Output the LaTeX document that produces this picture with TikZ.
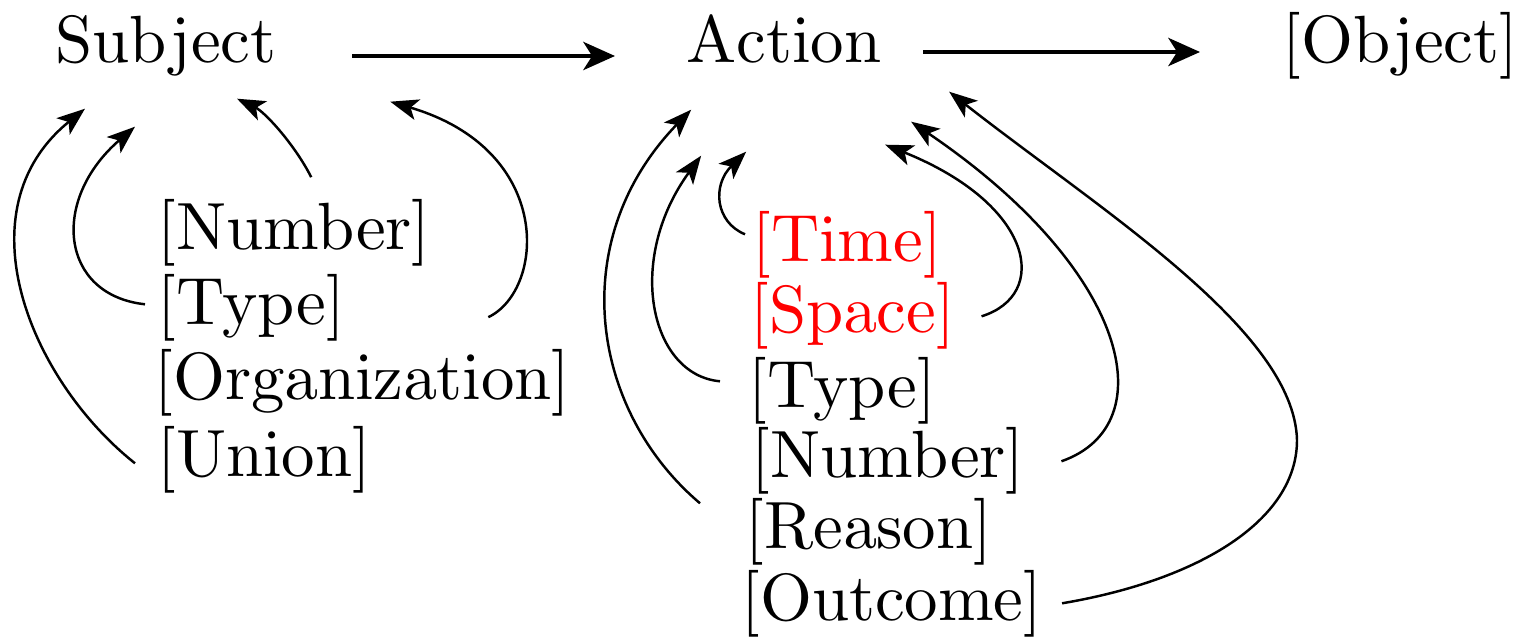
\documentclass[tikz,border=0pt]{standalone}
\usetikzlibrary{arrows.meta}
\font\wordfont=cmr10 at 19pt

\begin{document}
\begin{tikzpicture}[x=0.01cm,y=-0.01cm,
		word/.style={inner sep=0pt,anchor=base west,font=\wordfont},
		flow/.style={-{Stealth[length=9pt,width=8pt,inset=2.5pt]},line width=1.2pt},
		link/.style={-{Stealth[length=8pt,width=6pt,inset=2pt]},line width=0.7pt}]
			\useasboundingbox (0,0) rectangle (1524,640);
			\node[word] (subj) at (55,63) {Subject};
			\node[word] (act) at (686,63) {Action};
			\node[word] (obj) at (1282,63) {[Object]};
			\foreach \nm/\txt/\col/\xx/\yy in {lnum/[Number]/black/157/250, ltype/[Type]/black/157/325,
				lorg/[Organization]/black/154/400, lunion/[Union]/black/157/477,
				rtime/[Time]/red/752/262, rspace/[Space]/red/750/333, rtype/[Type]/black/748/408,
				rnum/[Number]/black/751/478, rreason/[Reason]/black/745/548, rout/[Outcome]/black/741/620} {
				\node[word,text=\col] (\nm) at (\xx,\yy) {\txt};
			}
			\draw[flow] ([shift={(75,-7)}]subj.base east) -- ([shift={(-71,-7)}]act.base west);
			\draw[flow] ([shift={(41,-11)}]act.base east) -- ([shift={(-82,-11)}]obj.base west);
			% subject side
			\draw[link] ([shift={(-22,3)}]lunion.west) .. controls (30,380) and (-40,210) .. ([shift={(30,32)}]subj.south west);
			\draw[link] ([shift={(-12,-4)}]ltype.west) .. controls (60,295) and (50,200) .. ([shift={(80,50)}]subj.south west);
			\draw[link] ([shift={(17,-22)}]lnum.north) .. controls (295,145) and (265,112) .. ([shift={(182,22)}]subj.south west);
			\draw[link] ([shift={(-83,-32)}]lorg.north east) .. controls (545,290) and (555,150) .. ([shift={(113,25)}]subj.south east);
			% action side
			\draw[link] ([shift={(-45,-28)}]rreason.west) .. controls (590,410) and (565,240) .. ([shift={(-93,46)}]act.south);
			\draw[link] ([shift={(-28,-10)}]rtype.west) .. controls (650,375) and (625,260) .. ([shift={(-83,92)}]act.south);
			\draw[link] ([shift={(-7,-11)}]rtime.west) .. controls (715,222) and (712,185) .. ([shift={(-38,88)}]act.south);
			\draw[link] ([shift={(26,0)}]rspace.east) .. controls (1050,295) and (1035,205) .. ([shift={(101,81)}]act.south);
			\draw[link] ([shift={(36,0)}]rnum.east) .. controls (1165,425) and (1130,270) .. ([shift={(127,58)}]act.south);
			\draw[link] ([shift={(19,0)}]rout.east) .. controls (1200,580) and (1297,520) .. (1297,440)
				.. controls (1294,330) and (1100,210) .. ([shift={(165,28)}]act.south);
		\end{tikzpicture}
\end{document}
